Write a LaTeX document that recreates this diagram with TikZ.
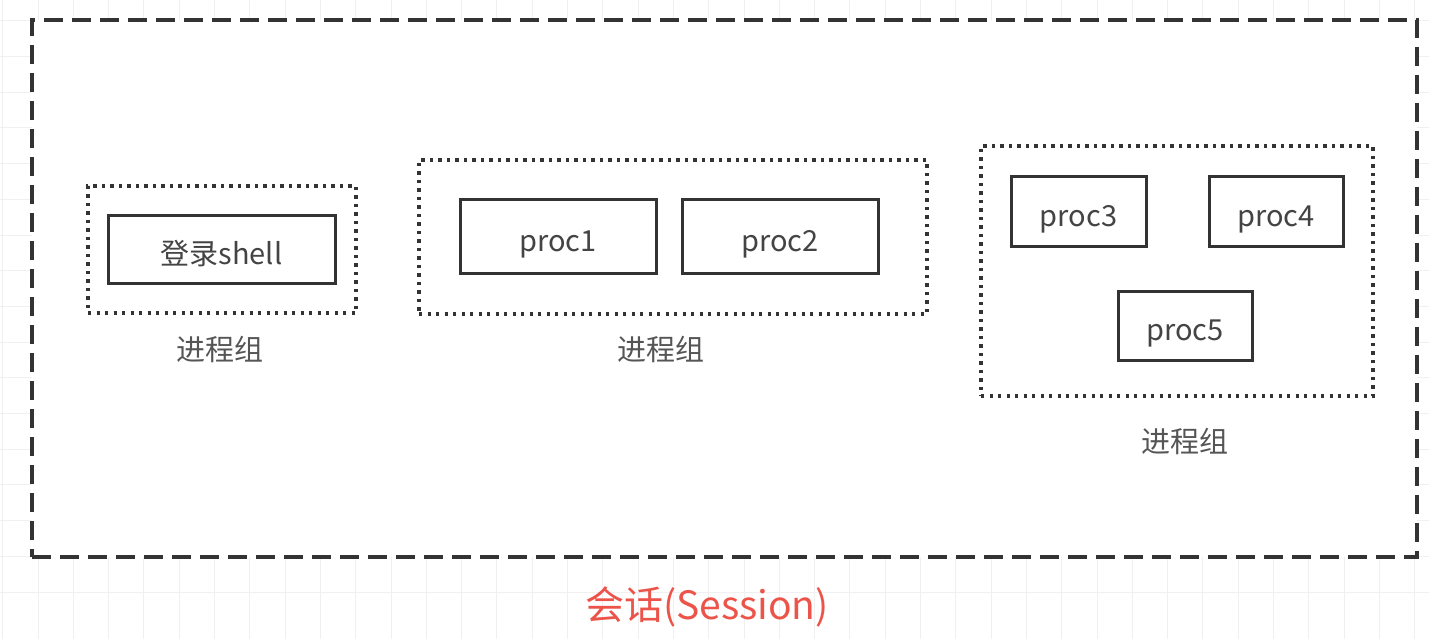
\documentclass[tikz,border=0pt]{standalone}
\usepackage{fontspec}
\newfontfamily\cjk{Noto Sans CJK SC}
\definecolor{boxline}{HTML}{333333}
\definecolor{txt}{HTML}{444444}
\definecolor{lbl}{HTML}{555555}
\definecolor{sess}{RGB}{236,84,74}
\definecolor{gridc}{HTML}{F0F0F0}
\tikzset{
  sessionbox/.style={draw=boxline, line width=4pt, dash pattern=on 19pt off 9pt, fill=white, inner sep=0pt},
  groupbox/.style={draw=boxline, line width=3.3pt, dash pattern=on 3.3pt off 5.2pt, inner sep=0pt},
  procbox/.style={draw=boxline, line width=3pt, fill=white, inner sep=0pt, text=txt, text height=35pt, text depth=5pt, font=\cjk\fontsize{29}{34}\selectfont},
  grouplabel/.style={text=lbl, font=\cjk\fontsize{29}{34}\selectfont, inner sep=0pt},
  sesslabel/.style={text=sess, font=\cjk\fontsize{39}{46}\selectfont, inner sep=0pt}
}
\begin{document}
\begin{tikzpicture}[x=1pt,y=-1pt]
\useasboundingbox (0,0) rectangle (1429,639);
\fill[white] (0,0) rectangle (1429,639);
% faint background grid
\foreach \i in {0,...,40} {
  \draw[gridc, line width=1pt] ({2.7+35.3*\i},0) -- ({2.7+35.3*\i},639);
}
\foreach \j in {0,...,17} {
  \draw[gridc, line width=1pt] (0,{592-35.7*\j}) -- (1429,{592-35.7*\j});
}
% session
\node[sessionbox, minimum width=1385pt, minimum height=537pt] (session) at (724.5,288.5) {};
\node[sesslabel] (sessionlabel) at (707,607) {会话(Session)};
% group 1
\node[groupbox, minimum width=268pt, minimum height=127pt] (g1) at (222,249.5) {};
\node[procbox, minimum width=227pt, minimum height=67pt] (shell) at (221.5,249.5) {登录shell};
\node[grouplabel] (g1label) at (220,349) {进程组};
% group 2
\node[groupbox, minimum width=508pt, minimum height=154pt] (g2) at (673,237) {};
\node[procbox, minimum width=196pt, minimum height=73pt] (p1) at (558,236.5) {proc1};
\node[procbox, minimum width=196pt, minimum height=73pt] (p2) at (780,236.5) {proc2};
\node[grouplabel] (g2label) at (661,349) {进程组};
% group 3
\node[groupbox, minimum width=392pt, minimum height=250pt] (g3) at (1177,271) {};
\node[procbox, minimum width=135pt, minimum height=69pt] (p3) at (1078.5,211.5) {proc3};
\node[procbox, minimum width=134pt, minimum height=69pt] (p4) at (1276,211.5) {proc4};
\node[procbox, minimum width=134pt, minimum height=69pt] (p5) at (1185,325.5) {proc5};
\node[grouplabel] (g3label) at (1185,441) {进程组};
\end{tikzpicture}
\end{document}
